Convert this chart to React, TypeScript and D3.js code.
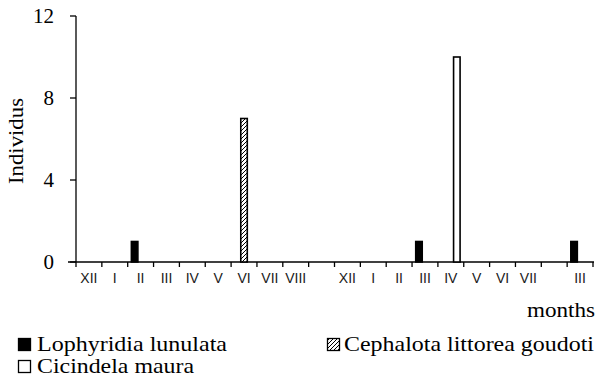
import React from "react";
import * as d3 from "d3";

const categories = ["XII","I","II","III","IV","V","VI","VII","VIII","","XII","I","II","III","IV","V","VI","VII","","III"];
const seriesNames = ["Lophyridia lunulata","Cephalota littorea goudoti","Cicindela maura"];
const lophyridia = [0,0,1,0,0,0,0,0,0,0,0,0,0,1,0,0,0,0,0,1];
const cephalota  = [0,0,0,0,0,0,7,0,0,0,0,0,0,0,0,0,0,0,0,0];
const cicindela  = [0,0,0,0,0,0,0,0,0,0,0,0,0,0,10,0,0,0,0,0];
const yTicks = [0,4,8,12];

const W = 596, H = 377;
const serif = "Liberation Serif, DejaVu Serif, Times New Roman, serif";
const sans = "Liberation Sans, Arial, sans-serif";
const serifStyle = { fontFamily: serif };

export default function App() {
  const left = 76, right = 593, top = 16, bottom = 262;
  const keys = categories.map((_, i) => String(i));
  const x = d3.scaleBand<string>().domain(keys).range([left, right]).padding(0);
  const step = x.bandwidth();
  const slot = 6;
  const pad = (step - 3 * slot) / 2 / slot;
  const xs = d3.scaleBand<string>().domain(seriesNames).range([0, step]).paddingInner(0).paddingOuter(pad);
  const y = d3.scaleLinear().domain([0, 12]).range([bottom, top]);
  const data = [lophyridia, cephalota, cicindela];
  const fills = ["#000", "url(#hatch)", "#fff"];
  const bars: JSX.Element[] = [];
  data.forEach((arr, si) => {
    arr.forEach((v, i) => {
      if (v <= 0) return;
      const cx = (x(String(i)) as number) + (xs(seriesNames[si]) as number) + xs.bandwidth() / 2;
      const bw = 6.5;
      bars.push(
        <rect key={si + "-" + i} x={cx - bw / 2} y={y(v)} width={bw} height={y(0) - y(v)}
          fill={fills[si]} stroke="#000" strokeWidth={1.6} />
      );
    });
  });
  const boundaries = d3.range(categories.length + 1).map(i => left + i * step);
  return (
    <svg width={W} height={H} style={{ position: "absolute", left: 0, top: 0, background: "#fff" }}>
      <defs>
        <pattern id="hatch" patternUnits="userSpaceOnUse" width="4" height="4">
          <rect width="4" height="4" fill="#fff" />
          <path d="M-1,1 l2,-2 M0,4 l4,-4 M3,5 l2,-2" stroke="#000" strokeWidth="1" />
        </pattern>
      </defs>
      <rect width={W} height={H} fill="#fff" />
      {/* y axis */}
      <line x1={left} x2={left} y1={top} y2={bottom} stroke="#000" strokeWidth={1.3} />
      {yTicks.map(t => (
        <g key={t}>
          <line x1={left - 6} x2={left} y1={y(t)} y2={y(t)} stroke="#000" strokeWidth={1.3} />
          <text x={54} y={y(t)} dy="0.35em" textAnchor="end" style={serifStyle} fontSize={21} fill="#000">{t}</text>
        </g>
      ))}
      <text transform={`translate(23,${(top + bottom) / 2 + 2}) rotate(-90)`} textAnchor="middle" style={serifStyle} fontSize={21} textLength={86} lengthAdjust="spacingAndGlyphs" fill="#000">Individus</text>
      {/* x axis */}
      <line x1={68} x2={right + 1} y1={bottom} y2={bottom} stroke="#000" strokeWidth={1.3} />
      {boundaries.map((b, i) => (
        <line key={i} x1={b} x2={b} y1={bottom} y2={bottom + 5} stroke="#000" strokeWidth={1.3} />
      ))}
      {categories.map((c, i) => (
        <text key={i} x={(x(String(i)) as number) + step / 2} y={bottom + 21} textAnchor="middle" style={{ fontFamily: sans }} fontSize={14} fill="#1a1a1a">{c}</text>
      ))}
      {bars}
      <text x={527} y={317} style={serifStyle} fontSize={21} textLength={68} lengthAdjust="spacingAndGlyphs" fill="#000">months</text>
      {/* legend */}
      <g style={serifStyle} fontSize={21} fill="#000">
        <rect x={18.5} y={338.5} width={12} height={12} fill="#000" stroke="#000" strokeWidth={1.3} />
        <text x={37} y={351} textLength={190} lengthAdjust="spacingAndGlyphs">{seriesNames[0]}</text>
        <rect x={327.5} y={338.5} width={12} height={12} fill="url(#hatch)" stroke="#000" strokeWidth={1.3} />
        <text x={344} y={351} textLength={250} lengthAdjust="spacingAndGlyphs">{seriesNames[1]}</text>
        <rect x={18.5} y={360.5} width={12} height={12} fill="#fff" stroke="#000" strokeWidth={1.3} />
        <text x={37} y={373} textLength={157} lengthAdjust="spacingAndGlyphs">{seriesNames[2]}</text>
      </g>
    </svg>
  );
}
